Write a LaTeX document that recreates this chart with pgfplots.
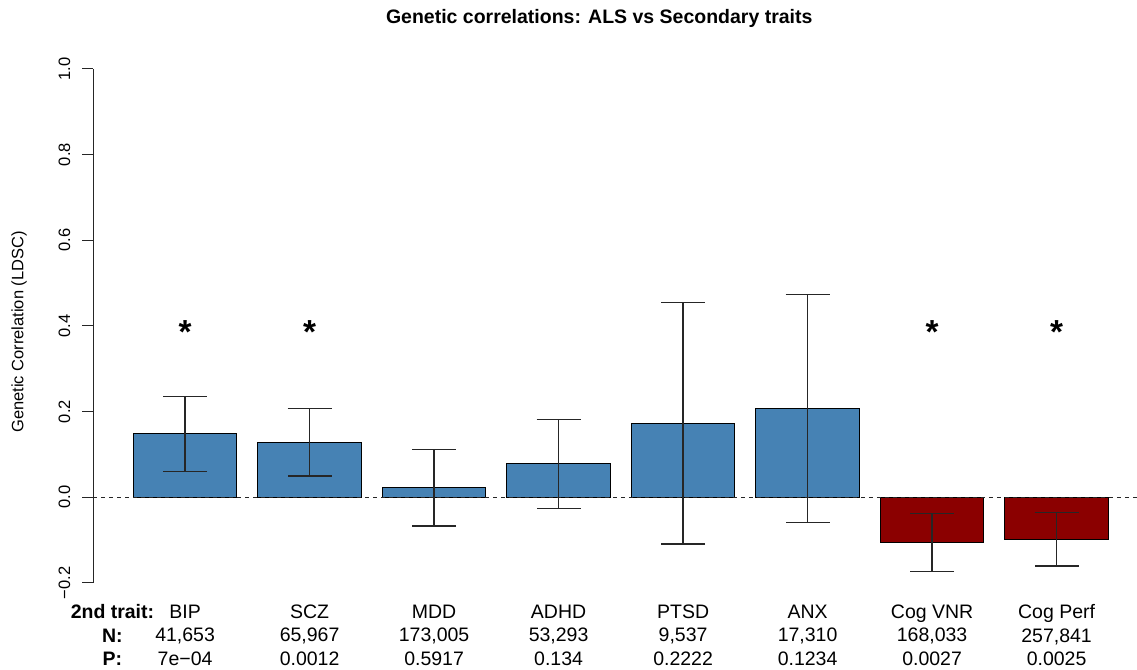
\documentclass[border=0pt]{standalone}
\usepackage{pgfplots}
\pgfplotsset{compat=1.18}
\usepackage{fontspec}
\setmainfont{Liberation Sans}
\definecolor{steelblue}{HTML}{4682B4}
\definecolor{darkred}{HTML}{8B0000}
\begin{document}
\begin{tikzpicture}
\begin{axis}[
  scale only axis,
  width=626.2pt, height=308.5pt,
  xmin=-0.184, xmax=9.87,
  ymin=-0.2, ymax=1.0,
  clip=false,
  axis x line*=bottom, axis y line*=left,
  x axis line style={draw=none},
  y axis line style={black!85, line width=0.6pt, -},
  tick align=outside,
  major tick length=6.6pt,
  ytick={-0.2,0,0.2,0.4,0.6,0.8,1.0},
  yticklabels={−0.2,0.0,0.2,0.4,0.6,0.8,1.0},
  ytick style={black!85, line width=0.6pt},
  yticklabel style={xshift=-7pt, rotate=90, anchor=south, inner sep=0pt, font=\fontsize{9.9}{12}\selectfont},
  xtick={0,0.7,1.9,3.1,4.3,5.5,6.7,7.9,9.1},
  xticklabels={{\textbf{2nd trait:}\\\textbf{N:}\\\textbf{P:}},
    {BIP\\41,653\\7e−04},
    {SCZ\\65,967\\0.0012},
    {MDD\\173,005\\0.5917},
    {ADHD\\53,293\\0.134},
    {PTSD\\9,537\\0.2222},
    {ANX\\17,310\\0.1234},
    {Cog VNR\\168,033\\0.0027},
    {Cog Perf\\257,841\\0.0025}},
  xtick style={draw=none},
  xticklabel style={align=center, anchor=north, inner sep=0pt, yshift=-6.4pt, font=\fontsize{11.7}{14.1}\selectfont},
]
% blue bars
\addplot[ybar, bar width=1, bar shift=0pt, fill=steelblue, draw=black, line width=0.6pt,
  error bars/.cd, y dir=both, y explicit,
  error bar style={black!85, line width=0.8pt},
  error mark options={black!85, line width=0.8pt, mark size=13.2pt, rotate=90}]
coordinates {
  (0.7,0.148) += (0,0.087) -= (0,0.088)
  (1.9,0.128) += (0,0.079) -= (0,0.0785)
  (3.1,0.023) += (0,0.088) -= (0,0.090)
  (4.3,0.078) += (0,0.103) -= (0,0.104)
  (5.5,0.172) += (0,0.283) -= (0,0.281)
  (6.7,0.207) += (0,0.266) -= (0,0.266)
};
% red bars
\addplot[ybar, bar width=1, bar shift=0pt, fill=darkred, draw=black, line width=0.6pt,
  error bars/.cd, y dir=both, y explicit,
  error bar style={black!85, line width=0.8pt},
  error mark options={black!85, line width=0.8pt, mark size=13.2pt, rotate=90}]
coordinates {
  (7.9,-0.1055) += (0,0.067) -= (0,0.0675)
  (9.1,-0.0985) += (0,0.063) -= (0,0.062)
};
% zero reference line
\addplot[sharp plot, no marks, black!85, line width=0.6pt, dash pattern=on 2.4pt off 2.4pt]
coordinates {(-0.184,0) (9.87,0)};
% significance asterisks
\node[anchor=base, inner sep=0pt, font=\bfseries\fontsize{20}{20}\selectfont] at (axis cs:0.7,0.359) {*};
\node[anchor=base, inner sep=0pt, font=\bfseries\fontsize{20}{20}\selectfont] at (axis cs:1.9,0.359) {*};
\node[anchor=base, inner sep=0pt, font=\bfseries\fontsize{20}{20}\selectfont] at (axis cs:7.9,0.359) {*};
\node[anchor=base, inner sep=0pt, font=\bfseries\fontsize{20}{20}\selectfont] at (axis cs:9.1,0.359) {*};
% title and y label
\node[anchor=base, inner sep=0pt, font=\bfseries\fontsize{11.7}{14}\selectfont] at (axis cs:4.692,1.107) {Genetic correlations: ALS vs Secondary traits};
\node[rotate=90, anchor=center, inner sep=0pt, font=\fontsize{9.9}{12}\selectfont] at (axis cs:-0.90,0.386) {Genetic Correlation (LDSC)};
% fixed bounding box
\path (axis cs:-1.0838,1.1610) rectangle (axis cs:9.8699,-0.4026);
\end{axis}
\end{tikzpicture}
\end{document}
